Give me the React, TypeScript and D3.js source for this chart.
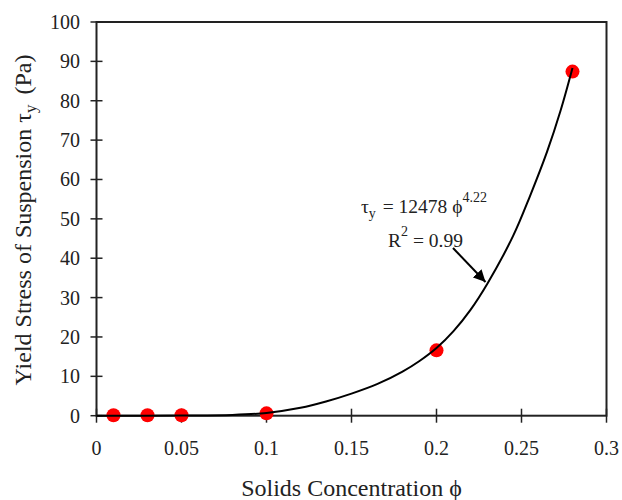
import { useRef, useEffect } from 'react'
import * as d3 from 'd3'

// measured points
const phiData = [0.01, 0.03, 0.05, 0.1, 0.2, 0.28]
const tauData = [0.1, 0.1, 0.1, 0.6, 16.6, 87.4]

// fitted curve
const fitPhi = [0, 0.05, 0.08, 0.1, 0.12, 0.135, 0.15, 0.165, 0.18, 0.19, 0.2, 0.21, 0.22, 0.23, 0.245, 0.255, 0.265, 0.273, 0.28]
const fitTau = [0, 0.05, 0.2, 0.7, 2.0, 3.6, 5.6, 8.0, 11.2, 13.9, 17.2, 21.5, 26.9, 33.6, 45.6, 55.8, 67.0, 77.5, 88.3]

const xTicks = [0, 0.05, 0.1, 0.15, 0.2, 0.25, 0.3]
const xTickLabels = ['0', '0.05', '0.1', '0.15', '0.2', '0.25', '0.3']
const yTicks = [0, 10, 20, 30, 40, 50, 60, 70, 80, 90, 100]

const FONT = '"Liberation Serif", "Times New Roman", serif'
const INK = '#222'

export default function App() {
    const svgRef = useRef<SVGSVGElement>(null)

    useEffect(() => {
        if (!svgRef.current) return
        const svg = d3.select(svgRef.current)
        svg.selectAll('*').remove()

        const left = 96.5, right = 606.5, top = 22, bottom = 415.7

        const x = d3.scaleLinear().domain([0, 0.3]).range([left, right])
        const y = d3.scaleLinear().domain([0, 100]).range([bottom, top])

        // frame
        svg.append('rect')
            .attr('x', left).attr('y', top)
            .attr('width', right - left).attr('height', bottom - top)
            .attr('fill', 'none').attr('stroke', INK).attr('stroke-width', 2)

        // y ticks
        svg.selectAll('.ytick').data(yTicks).enter().append('line')
            .attr('x1', left - 6).attr('x2', left + 6)
            .attr('y1', d => y(d)).attr('y2', d => y(d))
            .attr('stroke', INK).attr('stroke-width', 1.5)

        svg.selectAll('.ylab').data(yTicks).enter().append('text')
            .attr('x', 80).attr('y', d => y(d) + 7)
            .attr('text-anchor', 'end')
            .style('font-family', FONT).style('font-size', '20px').style('fill', INK)
            .text(d => d)

        // x ticks
        svg.selectAll('.xtick').data(xTicks).enter().append('line')
            .attr('x1', d => x(d)).attr('x2', d => x(d))
            .attr('y1', bottom - 7).attr('y2', bottom + 7)
            .attr('stroke', INK).attr('stroke-width', 1.5)

        svg.selectAll('.xlab').data(xTicks).enter().append('text')
            .attr('x', d => x(d)).attr('y', 455)
            .attr('text-anchor', 'middle')
            .style('font-family', FONT).style('font-size', '20px').style('fill', INK)
            .text((d, i) => xTickLabels[i])

        // axis titles
        svg.append('text')
            .attr('x', 351.5).attr('y', 496)
            .attr('text-anchor', 'middle')
            .style('font-family', FONT).style('font-size', '24px').style('fill', INK)
            .text('Solids Concentration ϕ')

        const yt = svg.append('text')
            .attr('transform', 'translate(31,220) rotate(-90)')
            .attr('text-anchor', 'middle')
            .style('font-family', FONT).style('font-size', '24px').style('fill', INK)
        yt.append('tspan').text('Yield Stress of Suspension τ')
        yt.append('tspan').attr('dy', 5).style('font-size', '17px').text('y')
        yt.append('tspan').attr('dy', -5).attr('dx', 10).text('(Pa)')

        // data points
        svg.selectAll('.pt').data(phiData).enter().append('circle')
            .attr('cx', d => x(d)).attr('cy', (d, i) => y(tauData[i]))
            .attr('r', 7)
            .attr('fill', '#f00')

        // fitted curve
        const line = d3.line<number>()
            .x(d => x(d))
            .y((d, i) => y(fitTau[i]))
            .curve(d3.curveCatmullRom.alpha(0.5))

        svg.append('path')
            .datum(fitPhi)
            .attr('d', line)
            .attr('fill', 'none').attr('stroke', '#000').attr('stroke-width', 2)

        // annotation
        const eq = svg.append('text')
            .attr('x', 361).attr('y', 213)
            .style('font-family', FONT).style('font-size', '19.5px').style('fill', INK)
        eq.append('tspan').text('τ')
        eq.append('tspan').attr('dy', 5).style('font-size', '14px').text('y')
        eq.append('tspan').attr('dy', -5).attr('dx', 2).text(' = 12478 ϕ')
        eq.append('tspan').attr('dy', -11).style('font-size', '14px').text('4.22')

        const r2 = svg.append('text')
            .attr('x', 388).attr('y', 246.5)
            .style('font-family', FONT).style('font-size', '19.5px').style('fill', INK)
        r2.append('tspan').text('R')
        r2.append('tspan').attr('dy', -11).style('font-size', '14px').text('2')
        r2.append('tspan').attr('dy', 11).text(' = 0.99')

        svg.append('defs').append('marker')
            .attr('id', 'arrow')
            .attr('viewBox', '0 0 10 10')
            .attr('refX', 10).attr('refY', 5)
            .attr('markerWidth', 6).attr('markerHeight', 6)
            .attr('markerUnits', 'strokeWidth')
            .attr('orient', 'auto')
            .append('path').attr('d', 'M0,0 L10,5 L0,10 Z').attr('fill', '#000')

        svg.append('line')
            .attr('x1', 453).attr('y1', 248)
            .attr('x2', 485.5).attr('y2', 282)
            .attr('stroke', '#000').attr('stroke-width', 2)
            .attr('marker-end', 'url(#arrow)')
    }, [])

    return (
        <svg ref={svgRef} width={622} height={500}
            style={{ position: 'absolute', left: 0, top: 0, background: '#fff' }} />
    )
}
